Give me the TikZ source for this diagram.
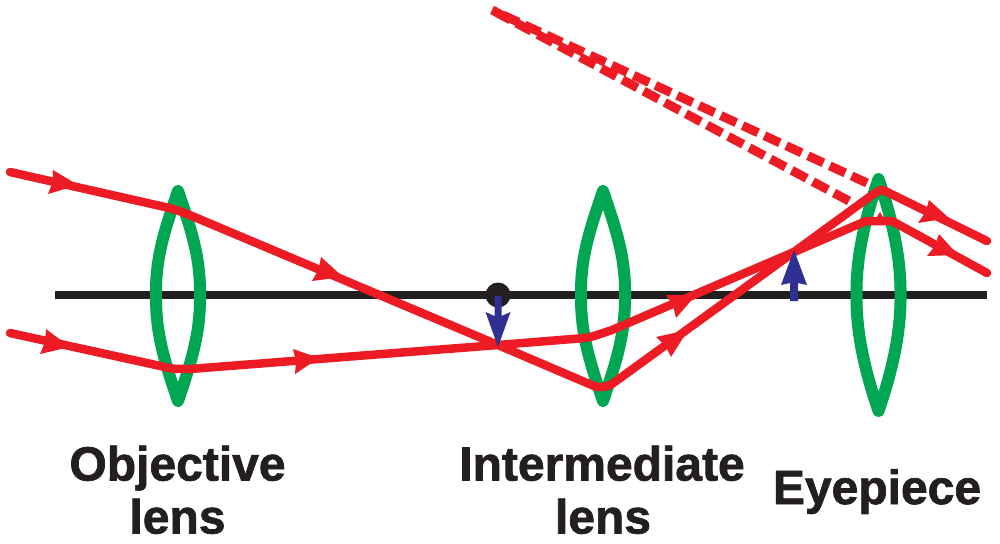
\documentclass[tikz,border=0pt]{standalone}
\usepackage{fontspec}
\setmainfont[BoldFeatures={FakeBold=1.5}]{Liberation Sans}
\usetikzlibrary{calc}
\definecolor{rayred}{HTML}{ED1C24}
\definecolor{lensgreen}{HTML}{00A651}
\definecolor{imgblue}{HTML}{2E3192}
\definecolor{axisblack}{HTML}{231F20}
\tikzset{
  axisline/.style={draw=axisblack,line width=8.3pt},
  lens/.style={draw=lensgreen,line width=12pt,line join=round,line cap=round},
  ray/.style={draw=rayred,line width=8.5pt,line join=round,line cap=round},
  virtual/.style={draw=rayred,line width=9pt,dash pattern=on 17pt off 7pt},
  lbl/.style={font=\bfseries\fontsize{48}{52}\selectfont,text=axisblack,inner sep=0pt,anchor=base,align=center},
}
\newcommand{\lensat}[5]{% x, top, bottom, half-width
  \draw[lens] (#1,#2) .. controls (#1-#4*0.62,#2+40) and (#1-#4*1.02,#5-38) .. (#1-#4,#5)
     .. controls (#1-#4*1.02,#5+38) and (#1-#4*0.62,#3-40) .. (#1,#3)
     .. controls (#1+#4*0.62,#3-40) and (#1+#4*1.02,#5+38) .. (#1+#4,#5)
     .. controls (#1+#4*1.02,#5-38) and (#1+#4*0.62,#2+40) .. cycle;
}
\newcommand{\rayhead}[3]{% tip, barb, barb
  \fill[rayred] (#1) -- (#2) -- ($($(#2)!0.5!(#3)$)!0.08!(#1)$) -- (#3) -- cycle;
}
\begin{document}
\begin{tikzpicture}[x=1pt,y=-1pt]
\useasboundingbox (0,0) rectangle (1000,543);
% axis
\coordinate (axL) at (55,295);
\coordinate (axR) at (987,295);
\draw[axisline] (axL) -- (axR);
% focal dot
\node[circle,fill=axisblack,minimum size=25pt,inner sep=0pt] (dot) at (498,295) {};
% lenses
\lensat{178}{191}{401}{22}{295}
\lensat{603}{191}{401}{22}{295}
\lensat{878.5}{179}{411}{22}{295}
% virtual rays
\coordinate (vU) at (867,183);
\coordinate (vL) at (849,201);
\coordinate (vS) at (492,10);
\draw[virtual] (vU) -- (vS);
\draw[virtual] (vL) -- (vS);
% rays
\coordinate (fx) at (498,345);
\coordinate (im) at (794,252);
\draw[ray] (10,172) -- (165,207) .. controls (178,210) and (182,212) .. (192,216)
  -- (fx) -- (594,386) .. controls (598,387.5) and (606,388) .. (612,384)
  -- (im) -- (868,198) .. controls (874,194) and (878,190) .. (883,190)
  -- (987,241);
\draw[ray] (10,333) -- (165,367) .. controls (170,369) and (180,369) .. (190,369)
  -- (fx) -- (585,338) .. controls (592,337) and (600,334) .. (612,330)
  -- (im) -- (866,221) -- (892,221) -- (987,273);
\fill[rayred] (875,220) -- (880,212) -- (885,220) -- cycle;
% arrowheads
\rayhead{78,185}{53,170}{48,194}
\rayhead{343,277}{321,257}{312,281}
\rayhead{70,347}{46,329}{40,354}
\rayhead{319,358}{293,349}{295,374}
\rayhead{696,295}{666,295}{676,318}
\rayhead{688,330}{656,337}{671,357}
\rayhead{949,218}{929,200}{918,223}
\rayhead{958,255}{939,234}{927,256}
% images
\fill[imgblue] (498,347) -- (485.5,312) -- (494.5,316) -- (494.5,296) -- (501.5,296) -- (501.5,316) -- (510.5,312) -- cycle;
\fill[imgblue] (794,250) -- (781,285) -- (790,283) -- (790,301) -- (798,301) -- (798,283) -- (807,285) -- cycle;
% labels
\node[lbl] (obj) at (177.5,480.5) {Objective};
\node[lbl] (objl) at (177.5,533.5) {lens};
\node[lbl] (int) at (602,480.5) {Intermediate};
\node[lbl] (intl) at (603,533.5) {lens};
\node[lbl] (eye) at (877,504) {Eyepiece};
\end{tikzpicture}
\end{document}
